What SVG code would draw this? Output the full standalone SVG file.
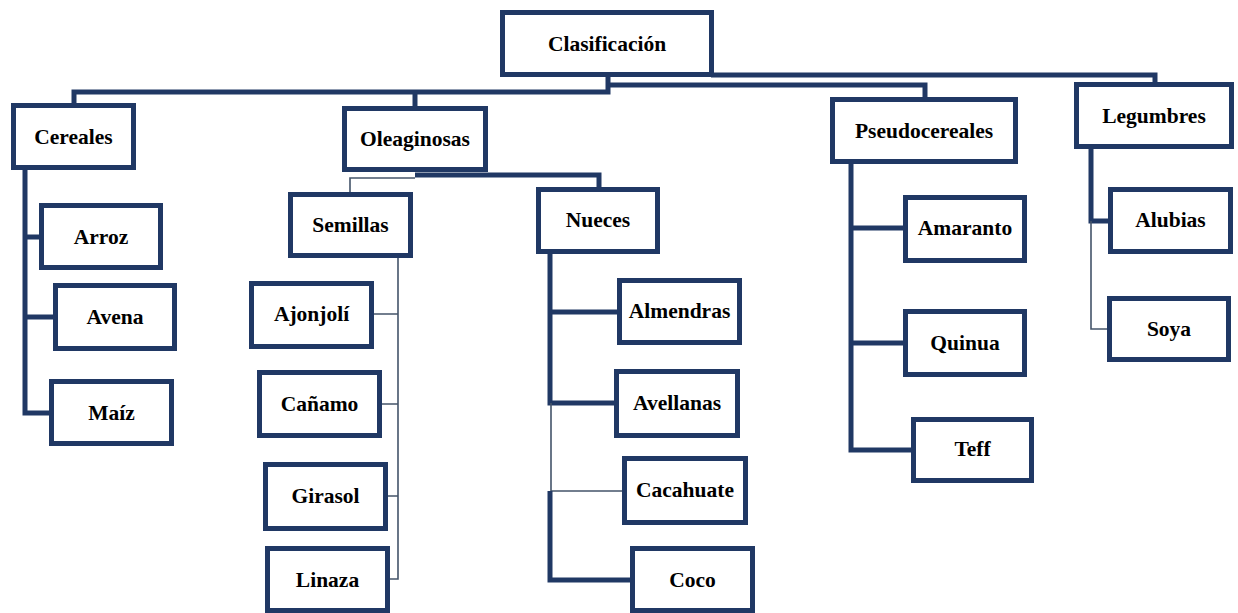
<svg xmlns="http://www.w3.org/2000/svg" width="1238" height="613" viewBox="0 0 1238 613">
<style>
.box rect{fill:#fff;stroke:#203864;stroke-width:5}
.box text{font-family:"Liberation Serif","Times New Roman",serif;font-weight:bold;font-size:21.5px;fill:#000;text-anchor:middle;dominant-baseline:central}
.thick{fill:none;stroke:#203864;stroke-width:5}
.thin{fill:none;stroke:#44546a;stroke-width:1.6}
</style>
<rect width="1238" height="613" fill="#fff"/>
<g id="connectors">
<path class="thick" d="M711 75 H1155 V84"/>
<path class="thick" d="M608 77 V92 H74 V104"/>
<path class="thick" d="M415 92 V107"/>
<path class="thick" d="M608 85 H925 V98"/>
<path class="thick" d="M415 175 H599 V188"/>
<path class="thin" d="M415 178 H350 V193"/>
<path class="thin" d="M398 257 V579 H389"/>
<path class="thin" d="M373 314 H398 M381 404 H398 M387 496 H398"/>
<path class="thick" d="M550 253 V403 H615 M550 312 H618"/>
<path class="thin" d="M551 403 V491 H623"/>
<path class="thick" d="M550 491 V580 H631"/>
<path class="thick" d="M25 169 V413 H50 M25 237 H40 M25 317 H54"/>
<path class="thick" d="M851 163 V450 H912 M851 228 H904 M851 343 H904"/>
<path class="thick" d="M1091 148 V221 H1109"/>
<path class="thin" d="M1091 221 V329 H1108"/>
</g>
<g id="clasificacion" class="box"><rect x="502.5" y="12.5" width="209" height="62"/><text x="607" y="43.5">Clasificación</text></g>
<g id="cereales" class="box"><rect x="13.5" y="105.5" width="120" height="62"/><text x="73.5" y="136.5">Cereales</text></g>
<g id="oleaginosas" class="box"><rect x="344.5" y="108.5" width="141" height="61"/><text x="415" y="139">Oleaginosas</text></g>
<g id="pseudocereales" class="box"><rect x="832.5" y="99.5" width="183" height="62"/><text x="924" y="130.5">Pseudocereales</text></g>
<g id="legumbres" class="box"><rect x="1076.5" y="84.5" width="155" height="62"/><text x="1154" y="115.5">Legumbres</text></g>
<g id="semillas" class="box"><rect x="290.5" y="194.5" width="120" height="61"/><text x="350.5" y="225">Semillas</text></g>
<g id="nueces" class="box"><rect x="538.5" y="189.5" width="119" height="62"/><text x="598" y="220">Nueces</text></g>
<g id="arroz" class="box"><rect x="41.5" y="205.5" width="119" height="62"/><text x="101" y="236.5">Arroz</text></g>
<g id="avena" class="box"><rect x="55.5" y="285.5" width="119" height="63"/><text x="115" y="317">Avena</text></g>
<g id="maiz" class="box"><rect x="51.5" y="381.5" width="120" height="62"/><text x="111.5" y="412.5">Maíz</text></g>
<g id="ajonjoli" class="box"><rect x="251.5" y="283.5" width="120" height="63"/><text x="311.5" y="314">Ajonjolí</text></g>
<g id="canamo" class="box"><rect x="259.5" y="372.5" width="120" height="63"/><text x="319.5" y="404">Cañamo</text></g>
<g id="girasol" class="box"><rect x="265.5" y="464.5" width="120" height="64"/><text x="325.5" y="496">Girasol</text></g>
<g id="linaza" class="box"><rect x="267.5" y="548.5" width="120" height="62"/><text x="327.5" y="579.5">Linaza</text></g>
<g id="almendras" class="box"><rect x="619.5" y="280.5" width="120" height="62"/><text x="679.5" y="311">Almendras</text></g>
<g id="avellanas" class="box"><rect x="616.5" y="371.5" width="121" height="64"/><text x="677" y="403">Avellanas</text></g>
<g id="cacahuate" class="box"><rect x="624.5" y="458.5" width="121" height="64"/><text x="685" y="490">Cacahuate</text></g>
<g id="coco" class="box"><rect x="632.5" y="548.5" width="120" height="62"/><text x="692.5" y="579.5">Coco</text></g>
<g id="amaranto" class="box"><rect x="905.5" y="197.5" width="119" height="63"/><text x="965" y="228">Amaranto</text></g>
<g id="quinua" class="box"><rect x="905.5" y="311.5" width="119" height="63"/><text x="965" y="343">Quinua</text></g>
<g id="teff" class="box"><rect x="913.5" y="419.5" width="118" height="61"/><text x="972.5" y="449">Teff</text></g>
<g id="alubias" class="box"><rect x="1110.5" y="189.5" width="120" height="62"/><text x="1170.5" y="220">Alubias</text></g>
<g id="soya" class="box"><rect x="1109.5" y="298.5" width="119" height="61"/><text x="1169" y="328.5">Soya</text></g>
</svg>
